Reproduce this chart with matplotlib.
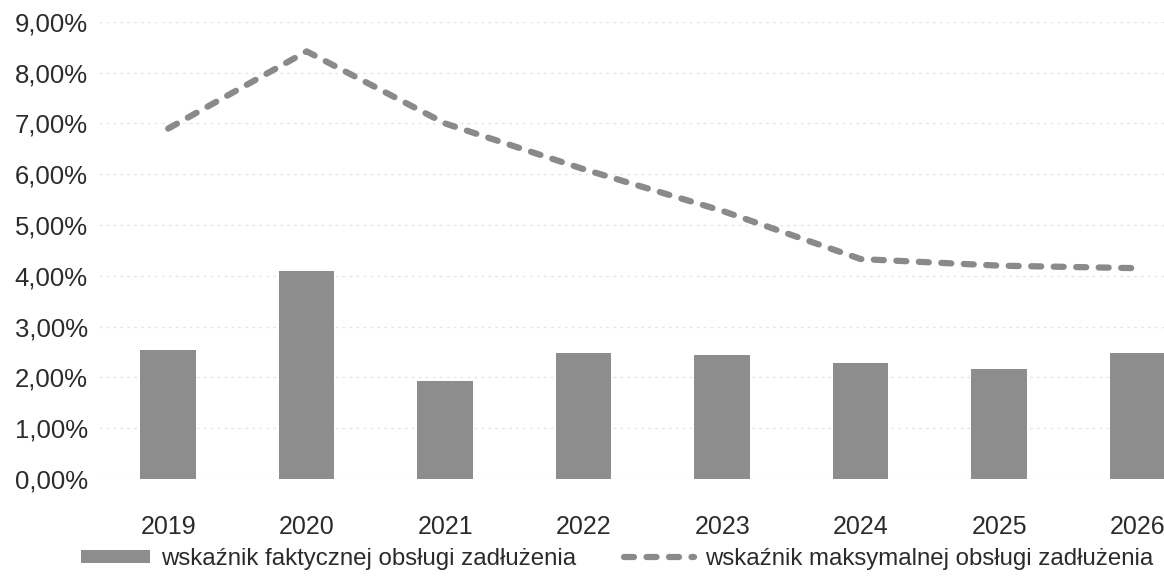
import matplotlib
matplotlib.use("Agg")
import matplotlib.pyplot as plt
from matplotlib.ticker import FuncFormatter, MultipleLocator
from matplotlib.patches import Patch
from matplotlib.lines import Line2D

plt.rcParams['font.family'] = ['Liberation Sans', 'DejaVu Sans']

years = ["2019", "2020", "2021", "2022", "2023", "2024", "2025", "2026"]
actual = [2.53, 4.09, 1.92, 2.47, 2.45, 2.29, 2.16, 2.47]
maximum = [6.90, 8.42, 7.00, 6.10, 5.28, 4.33, 4.20, 4.15]
label_actual = "wskaźnik faktycznej obsługi zadłużenia"
label_max = "wskaźnik maksymalnej obsługi zadłużenia"

bar_color = "#8d8d8d"
line_color = "#8a8a8a"
text_color = "#2b2b2b"
dash = (1.6, 2.0)

fig = plt.figure(figsize=(11.64, 5.77), dpi=100)
ax = fig.add_axes([0.085, 0.170, 0.915, 0.792])

x = list(range(len(years)))
ax.bar(x, actual, width=0.40, color=bar_color, zorder=2)
ax.plot(x, maximum, color=line_color, lw=4.5, dashes=dash,
        dash_capstyle='round', solid_capstyle='round', zorder=3)

ax.set_ylim(0, 9)
ax.set_xlim(-0.5, 7.19)
ax.yaxis.set_major_locator(MultipleLocator(1))
ax.yaxis.set_major_formatter(FuncFormatter(lambda v, p: f"{v:.2f}".replace(".", ",") + "%"))
ax.set_xticks(x)
ax.set_xticklabels(years)
ax.grid(axis='y', color='#e6e6e6', lw=1.0, ls=(0, (2, 3)), zorder=0)
for s in ax.spines.values():
    s.set_visible(False)
ax.tick_params(axis='both', length=0, colors=text_color)
ax.tick_params(axis='y', pad=8, labelsize=18.5)
ax.tick_params(axis='x', pad=26, labelsize=18)

handles = [Patch(facecolor=bar_color, edgecolor='none'),
           Line2D([0], [0], color=line_color, lw=4.5, dashes=dash,
                  dash_capstyle='round')]
fig.legend(handles, [label_actual, label_max], loc='lower center',
           bbox_to_anchor=(0.53, -0.025), ncol=2, frameon=False,
           fontsize=17.3, handlelength=2.9, handleheight=0.45,
           handletextpad=0.45, columnspacing=2.0, labelcolor=text_color)

fig.savefig("out.png", dpi=100)
